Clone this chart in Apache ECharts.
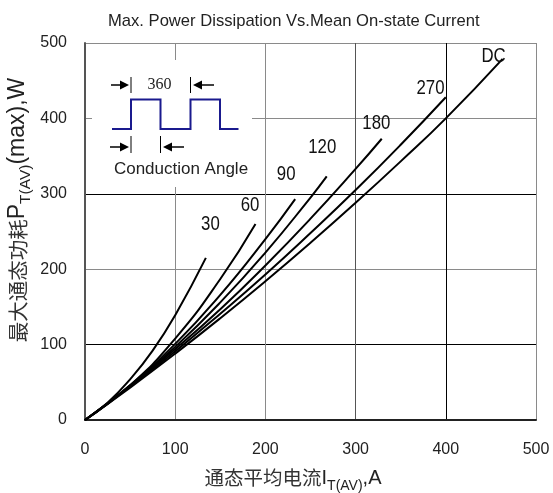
<!DOCTYPE html>
<html>
<head>
<meta charset="utf-8">
<script src="https://cdn.jsdelivr.net/npm/echarts@6/dist/echarts.min.js"></script>
<style>
html,body{margin:0;padding:0;background:#fff;}
#main{width:553px;height:493px;}
</style>
</head>
<body>
<div id="main"></div>
<script>
// ---- data ----
var titleText = 'Max. Power Dissipation Vs.Mean On-state Current';
var xTicks = [0, 100, 200, 300, 400, 500];
var yTicks = [0, 100, 200, 300, 400, 500];
var curveNames = ['30', '60', '90', '120', '180', '270', 'DC'];

var c30x = [0, 25, 50, 75, 100, 134];
var c30y = [0, 23, 54, 92, 139, 215];
var c60x = [0, 50, 100, 150, 189];
var c60y = [0, 46, 108, 187, 260];
var c90x = [0, 50, 100, 150, 200, 233];
var c90y = [0, 46, 101, 166, 240, 293];
var c120x = [0, 50, 100, 150, 200, 250, 268];
var c120y = [0, 45, 97, 156, 222, 295, 323];
var c180x = [0, 50, 100, 150, 200, 250, 300, 329];
var c180y = [0, 45, 94, 147, 205, 267, 333, 373];
var c270x = [0, 50, 100, 150, 200, 250, 300, 350, 400];
var c270y = [0, 44, 91, 141, 193, 248, 305, 365, 428];
var cDCx = [0, 50, 100, 150, 200, 250, 300, 350, 400, 463];
var cDCy = [0, 43, 88, 135, 184, 235, 288, 343, 400, 479];

// where each curve's name is written (data coordinates)
var labelAnchorX = [139, 183, 223, 263, 323, 383, 453];
var labelAnchorY = [259, 284, 325, 361, 393, 440, 482];

var curvesX = [c30x, c60x, c90x, c120x, c180x, c270x, cDCx];
var curvesY = [c30y, c60y, c90y, c120y, c180y, c270y, cDCy];

function zip(xs, ys) { return xs.map(function (v, i) { return [v, ys[i]]; }); }

var LAT = '"Liberation Sans", Arial, sans-serif';
var CJK = '"Noto Sans CJK SC", sans-serif';

var series = curveNames.map(function (n, i) {
  return {
    name: n,
    type: 'line',
    smooth: true,
    showSymbol: false,
    symbol: 'none',
    data: zip(curvesX[i], curvesY[i]),
    lineStyle: { color: '#000', width: 2 },
    z: 5
  };
});

var chart = echarts.init(document.getElementById('main'));

chart.setOption({
  animation: false,
  backgroundColor: '#fff',
  title: {
    text: titleText, left: 103, top: 8,
    textStyle: { fontFamily: LAT, fontSize: 16.6, fontWeight: 'normal', color: '#222' }
  },
  grid: { left: 85, top: 43, right: 17, bottom: 73 },
  xAxis: {
    type: 'value', min: xTicks[0], max: xTicks[xTicks.length - 1], interval: 100,
    axisLine: { show: true, lineStyle: { color: '#222', width: 2 } },
    axisTick: { show: false },
    axisLabel: { margin: 22, fontFamily: LAT, fontSize: 16, color: '#222' },
    splitLine: { show: true, lineStyle: { color: ['#000', '#8a8a8a', '#8a8a8a', '#555', '#000', '#8a8a8a'], width: 1 } }
  },
  yAxis: {
    type: 'value', min: yTicks[0], max: yTicks[yTicks.length - 1], interval: 100,
    axisLine: { show: true, lineStyle: { color: '#555', width: 2 } },
    axisTick: { show: false },
    axisLabel: { margin: 18, fontFamily: LAT, fontSize: 16, color: '#222' },
    splitLine: { show: true, lineStyle: { color: ['#000', '#000', '#8a8a8a', '#000', '#8a8a8a', '#8a8a8a'], width: 1 } }
  },
  series: series
});

var waveColor = '#1a1a8e';
var g = [];
// inset white background
g.push({ type: 'rect', shape: { x: 92, y: 60, width: 160, height: 127 }, style: { fill: '#fff' }, z: 50 });
// square wave
g.push({ type: 'polyline', z: 51, shape: { points: [[112, 129], [131, 129], [131, 99.5], [160.5, 99.5], [160.5, 129], [190.5, 129], [190.5, 99.5], [220, 99.5], [220, 129], [238.5, 129]] },
  style: { stroke: waveColor, lineWidth: 2, fill: null } });
// marker bars
[[131, 77, 93], [190.5, 77, 93], [131, 136, 153], [160.5, 136, 153]].forEach(function (b) {
  g.push({ type: 'line', z: 51, shape: { x1: b[0], y1: b[1], x2: b[0], y2: b[2] }, style: { stroke: '#000', lineWidth: 1 } });
});
// arrows: [tipX, y, dir (+1 right-pointing, -1 left-pointing), tailX]
[[129, 85, 1, 111], [193, 85, -1, 214], [129, 147, 1, 110], [163, 147, -1, 184]].forEach(function (a) {
  var tip = a[0], y = a[1], d = a[2], tail = a[3];
  var base = tip - d * 9;
  g.push({ type: 'line', z: 51, shape: { x1: tail, y1: y, x2: base, y2: y }, style: { stroke: '#000', lineWidth: 1.5 } });
  g.push({ type: 'polygon', z: 51, shape: { points: [[tip, y], [base, y - 4.5], [base, y + 4.5]] }, style: { fill: '#000' } });
});
g.push({ type: 'text', z: 51, x: 159.5, y: 85, style: { text: '360', font: '16px "Liberation Serif", serif', fill: '#222', align: 'center', verticalAlign: 'middle' } });
g.push({ type: 'text', z: 51, x: 181, y: 169.5, style: { text: 'Conduction Angle', font: '17px ' + LAT, fill: '#222', align: 'center', verticalAlign: 'middle' } });

// curve names, placed through the chart's own scales
curveNames.forEach(function (n, i) {
  var p = chart.convertToPixel({ gridIndex: 0 }, [labelAnchorX[i], labelAnchorY[i]]);
  g.push({ type: 'text', z: 52, x: p[0], y: p[1], scaleX: 0.84,
    style: { text: n, font: '20px ' + LAT, fill: '#111', align: 'center', verticalAlign: 'middle' } });
});

// axis names with subscripts
g.push({ type: 'text', z: 51, x: 18, y: 210, rotation: Math.PI / 2,
  style: {
    text: '{c|最大通态功耗}{b|P}{s|T(AV)}{b|(max),W}',
    align: 'center', verticalAlign: 'middle',
    rich: {
      c: { fontFamily: CJK, fontSize: 20.5, fill: '#333', lineHeight: 32 },
      b: { fontFamily: LAT, fontSize: 23, fill: '#222', lineHeight: 32 },
      s: { fontFamily: LAT, fontSize: 15.5, fill: '#222', lineHeight: 32, verticalAlign: 'bottom' }
    }
  } });
g.push({ type: 'text', z: 51, x: 293, y: 478,
  style: {
    text: '{c|通态平均电流}{b|I}{s|T(AV)}{b|,A}',
    align: 'center', verticalAlign: 'middle',
    rich: {
      c: { fontFamily: CJK, fontSize: 19.5, fill: '#333', lineHeight: 30 },
      b: { fontFamily: LAT, fontSize: 20, fill: '#222', lineHeight: 30 },
      s: { fontFamily: LAT, fontSize: 14, fill: '#222', lineHeight: 30, verticalAlign: 'bottom' }
    }
  } });

chart.setOption({ graphic: g });
</script>
</body>
</html>
